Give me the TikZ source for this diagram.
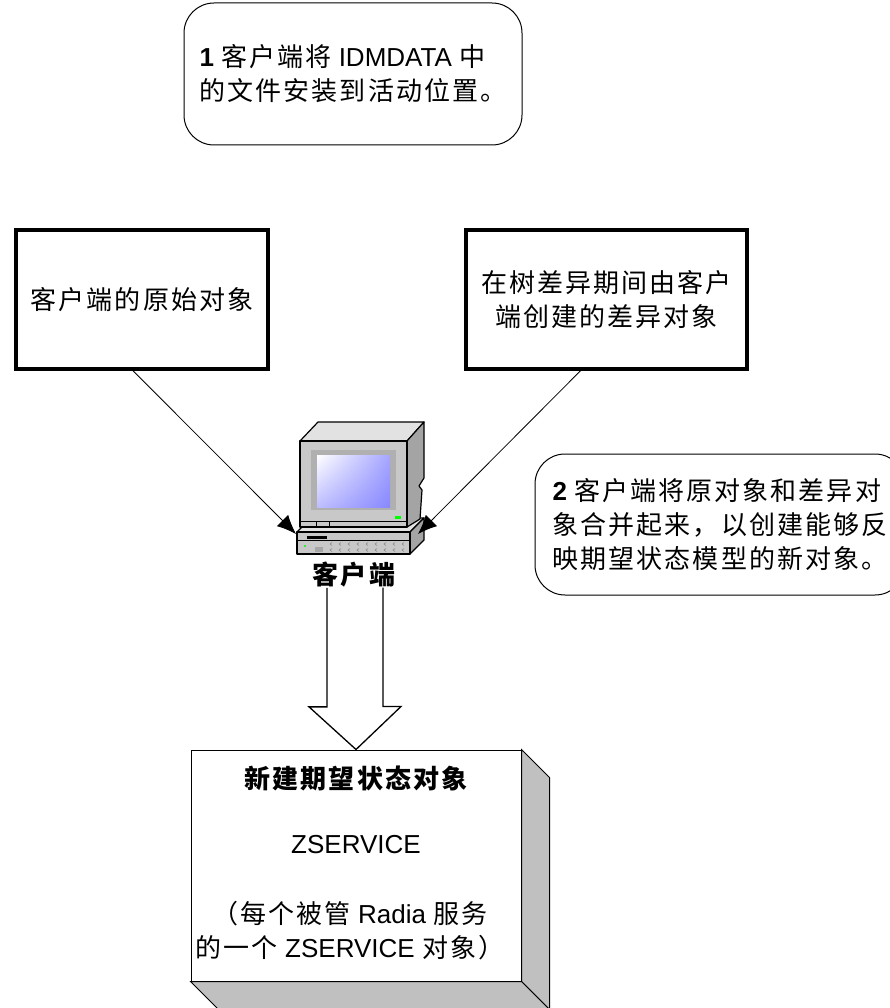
\documentclass[tikz,border=0pt]{standalone}
\usepackage{fontspec}
\setmainfont{Liberation Sans}
\newfontfamily\cjk[LetterSpace=8]{Noto Sans CJK SC}
\newcommand{\zh}[1]{{\cjk #1}}
\usetikzlibrary{arrows.meta,shadings}

\definecolor{pcface}{HTML}{C8C8C8}
\definecolor{pclight}{HTML}{E2E2E2}
\definecolor{pcdark}{HTML}{A4A4A4}
\definecolor{pcbezel}{HTML}{B0B0B0}
\definecolor{scrblue}{HTML}{8888FF}
\definecolor{boxside}{HTML}{C0C0C0}

\tikzset{
  lbl/.style={font=\fontsize{26}{34}\selectfont, inner sep=0pt},
  objbox/.style={draw, line width=3.5pt, lbl, align=center},
  note/.style={draw, line width=1pt, rounded corners=30pt, lbl, align=left},
  feed/.style={line width=0.8pt, -{Latex[length=19pt,width=16pt]}},
  hollow/.style={draw, line width=1.3pt, fill=white},
}

\begin{document}
\begin{tikzpicture}[x=1pt, y=-1pt]
  \useasboundingbox (0,0) rectangle (890,1008);
  \begin{scope}
    \clip (0,0) rectangle (890,1008);

    % step notes
    \node[note, minimum width=338pt, minimum height=142pt] (step1) at (353,74)
      {\textbf{1} \zh{客户端将} IDMDATA \zh{中}\\ \zh{的文件安装到活动位置。}};
    \node[note, minimum width=370pt, minimum height=141pt] (step2) at (720,524.5)
      {\textbf{2} \zh{客户端将原对象和差异对}\\ \zh{象合并起来，以创建能够反}\\ \zh{映期望状态模型的新对象。}};

    % input objects
    \node[objbox, minimum width=252pt, minimum height=139pt] (origobj) at (142,299.5)
      {\zh{客户端的原始对象}};
    \node[objbox, minimum width=281pt, minimum height=139pt] (diffobj) at (606.5,299.5)
      {\zh{在树差异期间由客户}\\ \zh{端创建的差异对象}};

    % client machine
    \begin{scope}[line width=1.2pt, line join=round]
      % base unit
      \filldraw[fill=pclight] (297,532) -- (311,518) -- (424,518) -- (410,532) -- cycle;
      \filldraw[fill=pcdark] (410,532) -- (424,518) -- (424,540) -- (410,554) -- cycle;
      \filldraw[fill=pcface] (297,532) rectangle (410,554);
      \fill (307,536) rectangle (327,539);
      \draw[line width=0.6pt] (297,540) -- (410,540);
      \fill[green] (305,546) circle (1.2pt);
      \fill[gray!70] (315,547) rectangle (323,552);
      \foreach \gx in {330,339,...,402}
        \foreach \gy in {544,550}
          \draw[gray, line width=0.5pt] (\gx+2,\gy-1.5) -- (\gx,\gy) -- (\gx+2,\gy+1.5);
      % monitor
      \filldraw[fill=pclight] (300,441) -- (318,422) -- (424,422) -- (407,441) -- cycle;
      \filldraw[fill=pcdark] (407,441) -- (424,422) -- (424,478) -- (419,486) -- (422,490)
        -- (420,519) -- (407,527) -- cycle;
      \filldraw[fill=pcface] (300,441) rectangle (407,527);
      \fill[pcbezel] (311,450) rectangle (396,510);
      \shade[upper left=white, upper right=scrblue!75, lower left=scrblue!55,
        lower right=scrblue] (317,455) rectangle (390,507);
      \fill[green] (395,516) rectangle (401,519);
      \draw[line width=0.6pt] (300,521) -- (407,521) (316,521) -- (316,527) (329,521) -- (329,527);
    \end{scope}
    \coordinate (pcleft) at (296,534);
    \coordinate (pcright) at (418,534);

    \draw[feed] ([xshift=-9pt]origobj.south) -- (pcleft);
    \draw[feed] ([xshift=-26pt]diffobj.south) -- (pcright);

    % new desired-state object
    \node[draw, fill=white, line width=1pt, minimum width=330pt, minimum height=231pt] (newobj) at (356,865.5) {};
    \filldraw[fill=boxside, line width=1pt] (newobj.north east) -- ++(28,28)
      -- ([shift={(28,28)}]newobj.south east) -- (newobj.south east) -- cycle;
    \filldraw[fill=boxside, line width=1pt] (newobj.south west) -- ++(28,28)
      -- ([shift={(28,28)}]newobj.south east) -- (newobj.south east) -- cycle;
    \node[lbl] (newtitle) at (356,778) {\zh{\bfseries 新建期望状态对象}};
    \node[lbl] (newname) at (356,845) {ZSERVICE};
    \node[lbl, align=center] (newnote) at (350,931)
      {\zh{（每个被管} Radia \zh{服务}\\ \zh{的一个} ZSERVICE \zh{对象）}};

    % merge arrow down to the new object
    \node[lbl] (pclabel) at (354,575) {\zh{\bfseries 客户端}};
    \draw[hollow] ([xshift=-27pt]pclabel.south) -- ++(0,119) -- ++(-18,0) -- (newobj.north)
      -- ++(45,-43) -- ++(-18,0) -- ++(0,-119);
  \end{scope}
\end{tikzpicture}
\end{document}
